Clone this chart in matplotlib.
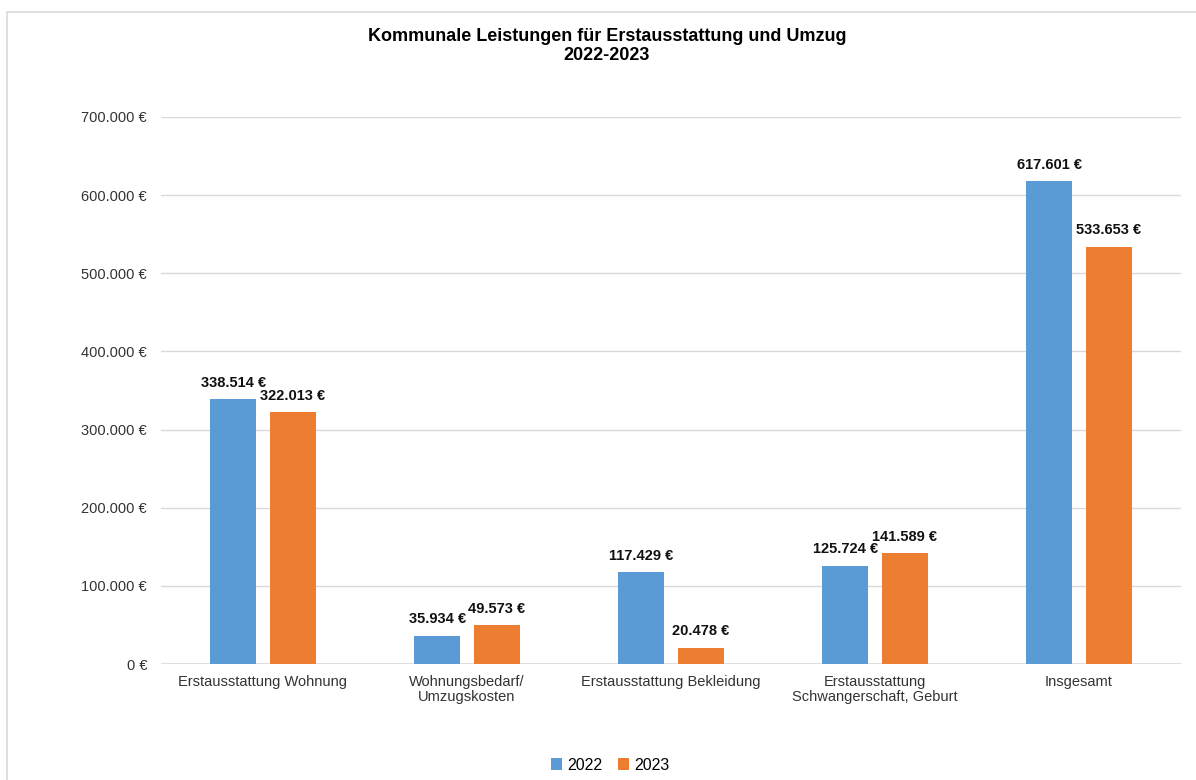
import numpy as np
import matplotlib
matplotlib.use("Agg")
import matplotlib.pyplot as plt
from matplotlib.patches import Rectangle

plt.rcParams['font.family'] = ['Liberation Sans', 'DejaVu Sans']

kategorien = ["Erstausstattung Wohnung", "Wohnungsbedarf/\nUmzugskosten",
              "Erstausstattung Bekleidung", "Erstausstattung\nSchwangerschaft, Geburt",
              "Insgesamt"]
werte_2022 = [338514, 35934, 117429, 125724, 617601]
werte_2023 = [322013, 49573, 20478, 141589, 533653]
jahre = ["2022", "2023"]

blau = "#5B9BD5"
orange = "#ED7D31"

def euro(v):
    return f"{v:,.0f} €".replace(",", ".")

fig = plt.figure(figsize=(11.96, 7.8), dpi=100)
ax = fig.add_axes([161/1196, 1 - 664/780, (1181-161)/1196, (664-117)/780])

# Rahmen um das Diagramm
fig.patches.append(Rectangle((7/1196, -0.05), 1.1, 1 - 12/780 + 0.05,
                             transform=fig.transFigure, fill=False,
                             edgecolor="#D9D9D9", linewidth=1.2))

x = np.arange(len(kategorien))
b = 0.225
off = 0.145
bars1 = ax.bar(x - off, werte_2022, b, color=blau, label=jahre[0], zorder=3)
bars2 = ax.bar(x + off, werte_2023, b, color=orange, label=jahre[1], zorder=3)

for bars, werte in ((bars1, werte_2022), (bars2, werte_2023)):
    for r, v in zip(bars, werte):
        ax.annotate(euro(v), (r.get_x() + r.get_width()/2, v),
                    xytext=(0, 7), textcoords="offset points",
                    ha="center", va="bottom", fontsize=10.5,
                    fontweight="bold", color="#111111")

ax.set_xlim(-0.5, len(kategorien) - 0.5)
ax.set_ylim(0, 700000)
yt = np.arange(0, 700001, 100000)
ax.set_yticks(yt)
ax.set_yticklabels([euro(v) for v in yt], fontsize=10.5, color="#333333")
ax.set_xticks(x)
ax.set_xticklabels(kategorien, fontsize=10.5, color="#333333", linespacing=1.1)
ax.tick_params(length=0, pad=10)
ax.tick_params(axis="x", pad=8)
ax.grid(axis="y", color="#D9D9D9", linewidth=1, zorder=0)
for s in ax.spines.values():
    s.set_visible(False)
ax.axhline(0, color="#D9D9D9", linewidth=1.2, zorder=2)

fig.text(607/1196, 1 - 46/780,
         "Kommunale Leistungen für Erstausstattung und Umzug\n2022-2023",
         ha="center", va="center", fontsize=13, fontweight="bold",
         linespacing=1.2)

fig.legend(loc="center", bbox_to_anchor=(0.51, 1 - 765/780), ncol=2,
           frameon=False, fontsize=11.5, handlelength=0.7, handleheight=0.7,
           handletextpad=0.3, columnspacing=1.0)

fig.savefig("out.png", dpi=100)
